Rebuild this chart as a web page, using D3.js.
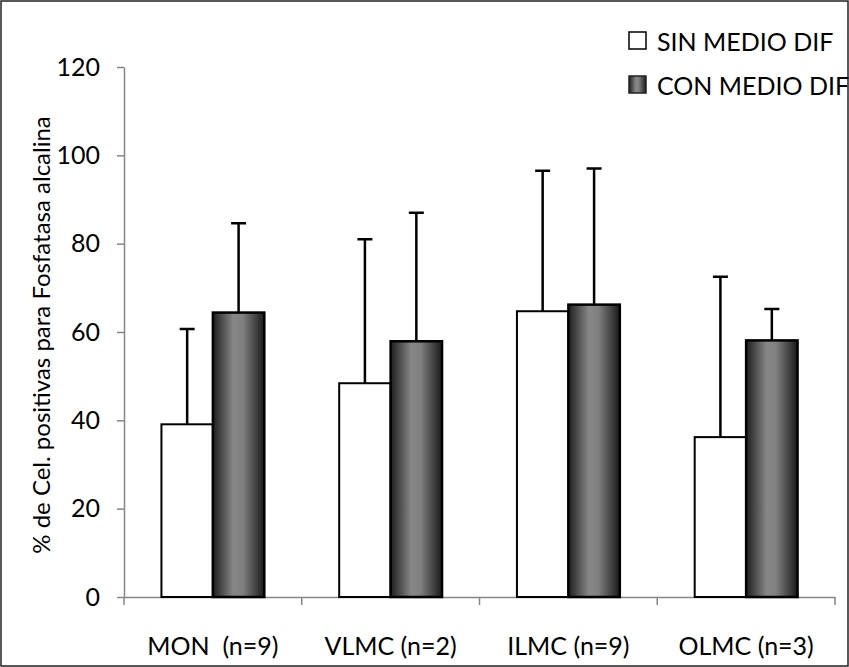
<!DOCTYPE html>
<html>
<head>
<meta charset="utf-8">
<script src="https://cdn.jsdelivr.net/npm/d3@7"></script>
<style>
  body { margin: 0; background: #fff; }
  svg { display: block; font-family: Lato, "Open Sans", sans-serif; }
</style>
</head>
<body>
<svg id="chart" width="849" height="667"></svg>
<script>
// data
const categories = ["MON  (n=9)", "VLMC (n=2)", "ILMC (n=9)", "OLMC (n=3)"];
const seriesNames = ["SIN MEDIO DIF", "CON MEDIO DIF"];
const sinMean = [39.1, 48.4, 64.7, 36.2];
const sinErr = [21.6, 32.6, 31.8, 36.3];
const conMean = [64.4, 57.9, 66.2, 58.1];
const conErr = [20.2, 29.1, 30.8, 7.1];
const yTicks = [0, 20, 40, 60, 80, 100, 120];

const margin = { top: 67, right: 14, bottom: 70, left: 124 };
const W = 849, H = 667;
const width = W - margin.left - margin.right;
const height = H - margin.top - margin.bottom;

const svg = d3.select("#chart");

// gradient for the dark bars
const defs = svg.append("defs");
const grad = defs.append("linearGradient")
    .attr("id", "darkGrad")
    .attr("x1", "0%").attr("x2", "100%").attr("y1", "0%").attr("y2", "0%");
grad.append("stop").attr("offset", "0%").attr("stop-color", "#1e1e1e");
grad.append("stop").attr("offset", "40%").attr("stop-color", "#878787");
grad.append("stop").attr("offset", "58%").attr("stop-color", "#808080");
grad.append("stop").attr("offset", "100%").attr("stop-color", "#1a1a1a");

// outer frame
svg.append("rect")
    .attr("x", 1).attr("y", 1)
    .attr("width", W - 2).attr("height", H - 2)
    .attr("fill", "none")
    .attr("stroke", "#222")
    .attr("stroke-width", 1.5);

const g = svg.append("g")
    .attr("transform", `translate(${margin.left},${margin.top})`);

const x = d3.scaleBand()
    .domain(categories)
    .range([0, width])
    .padding(0);

const xs = d3.scaleBand()
    .domain(seriesNames)
    .range([0, x.bandwidth()])
    .paddingInner(0)
    .paddingOuter(0.728);

const y = d3.scaleLinear()
    .domain([0, 120])
    .range([height, 0]);

const data = categories.map((c, i) => ({
    cat: c,
    values: [
        { key: seriesNames[0], mean: sinMean[i], err: sinErr[i] },
        { key: seriesNames[1], mean: conMean[i], err: conErr[i] }
    ]
}));

// y axis
const yAxis = g.append("g")
    .call(d3.axisLeft(y).tickValues(yTicks).tickSize(7).tickSizeOuter(0).tickPadding(17));
yAxis.select(".domain").attr("stroke", "#868686").attr("stroke-width", 1.5);
yAxis.selectAll(".tick line").attr("stroke", "#868686").attr("stroke-width", 1.5);
yAxis.selectAll(".tick text")
    .attr("fill", "#000")
    .style("font-size", "25px")
    .style("font-family", "Lato, sans-serif");

// x axis: line plus ticks at category boundaries
const xAxis = g.append("g")
    .attr("transform", `translate(0,${height})`)
    .call(d3.axisBottom(x).tickSize(0).tickPadding(40));
xAxis.select(".domain").attr("stroke", "#868686").attr("stroke-width", 1.5);
xAxis.selectAll(".tick text")
    .attr("fill", "#000")
    .style("font-size", "25px")
    .style("font-family", "Lato, sans-serif")
    .attr("xml:space", "preserve")
    .style("white-space", "pre");

const bounds = categories.map(c => x(c)).concat([width]);
xAxis.selectAll(".bound")
    .data(bounds)
    .join("line")
    .attr("class", "bound")
    .attr("x1", d => d).attr("x2", d => d)
    .attr("y1", 0).attr("y2", 8)
    .attr("stroke", "#868686")
    .attr("stroke-width", 1.5);

// bars
const groups = g.selectAll(".grp")
    .data(data)
    .join("g")
    .attr("class", "grp")
    .attr("transform", d => `translate(${x(d.cat)},0)`);

groups.selectAll("rect")
    .data(d => d.values)
    .join("rect")
    .attr("x", d => xs(d.key))
    .attr("y", d => y(d.mean))
    .attr("width", xs.bandwidth())
    .attr("height", d => height - y(d.mean))
    .attr("fill", d => d.key === seriesNames[0] ? "#fff" : "url(#darkGrad)")
    .attr("stroke", "#000")
    .attr("stroke-width", d => d.key === seriesNames[0] ? 2 : 2.5);

// error bars (upper only)
const capW = 15;
groups.selectAll(".err")
    .data(d => d.values)
    .join("path")
    .attr("class", "err")
    .attr("fill", "none")
    .attr("stroke", "#000")
    .attr("stroke-width", 2.5)
    .attr("d", d => {
        const cx = xs(d.key) + xs.bandwidth() / 2;
        const y0 = y(d.mean), y1 = y(d.mean + d.err);
        return `M${cx},${y0}V${y1}M${cx - capW / 2},${y1}H${cx + capW / 2}`;
    });

// y title
svg.append("text")
    .attr("transform", `translate(50,${margin.top + height / 2 + 3}) rotate(-90)`)
    .attr("text-anchor", "middle")
    .style("font-size", "24px")
    .text("% de Cel. positivas para Fosfatasa alcalina");

// legend
const legend = svg.append("g").attr("transform", "translate(629,32)");
const legItems = legend.selectAll("g")
    .data(seriesNames)
    .join("g")
    .attr("transform", (d, i) => `translate(0,${i * 44})`);

legItems.append("rect")
    .attr("width", 17).attr("height", 17)
    .attr("fill", (d, i) => i === 0 ? "#fff" : "url(#darkGrad)")
    .attr("stroke", (d, i) => i === 0 ? "#000" : "#222")
    .attr("stroke-width", 1.5);

legItems.append("text")
    .attr("x", 28)
    .attr("y", 19)
    .style("font-size", "25px")
    .text(d => d);
</script>
</body>
</html>
